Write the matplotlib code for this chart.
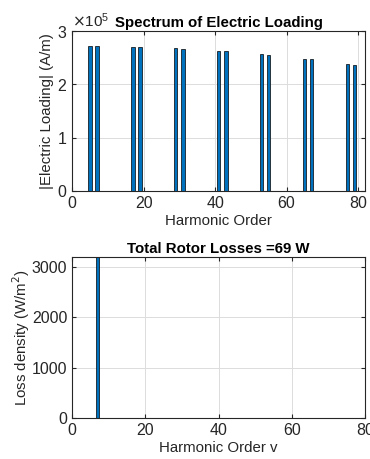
import numpy as np
import matplotlib
matplotlib.use("Agg")
from matplotlib import pyplot as plt
from matplotlib.ticker import ScalarFormatter

# harmonic spectrum of the electric loading (A/m)
harmonics = [5, 7, 17, 19, 29, 31, 41, 43, 53, 55, 65, 67, 77, 79]
loading = [2.73e5, 2.73e5, 2.71e5, 2.71e5, 2.68e5, 2.67e5, 2.63e5, 2.62e5,
           2.57e5, 2.55e5, 2.48e5, 2.47e5, 2.38e5, 2.37e5]

# rotor loss density per harmonic (W/m^2)
loss_harmonics = [5, 7, 17, 19, 29, 31, 41, 43, 53, 55, 65, 67, 77, 79]
loss_density = [0, 9000, 4, 3, 1, 1, 0.5, 0.5, 0.3, 0.3, 0.2, 0.2, 0.1, 0.1]
total_loss = 69

blue = "#0072BD"
axcol = "#262626"

plt.rcParams['font.family'] = ['Liberation Sans', 'DejaVu Sans']
plt.rcParams['font.size'] = 10.8

fig = plt.figure(figsize=(3.7, 4.59), dpi=100)


def style(ax):
    for s in ax.spines.values():
        s.set_color(axcol)
        s.set_linewidth(0.8)
    ax.tick_params(direction='in', top=True, right=True, colors=axcol,
                   labelcolor=axcol, length=3, labelsize=11.5)
    ax.grid(True, color='#dcdcdc', linewidth=0.7)
    ax.set_axisbelow(True)


# all harmonics 1..82 so zero bars draw along the baseline like MATLAB
n_all = np.arange(1, 82)
load_all = np.zeros(len(n_all))
for h, v in zip(harmonics, loading):
    load_all[h - 1] = v
loss_all = np.zeros(len(n_all))
for h, v in zip(loss_harmonics, loss_density):
    loss_all[h - 1] = v

ax1 = fig.add_axes([0.195, 0.584, 0.792, 0.348])
style(ax1)
ax1.bar(n_all, load_all, width=0.95, color=blue, edgecolor='black', linewidth=0.5)
ax1.set_xlim(0, 82)
ax1.set_ylim(0, 3e5)
ax1.set_xticks([0, 20, 40, 60, 80])
ax1.set_yticks([0, 1e5, 2e5, 3e5])
fmt = ScalarFormatter(useMathText=True)
fmt.set_powerlimits((0, 0))
ax1.yaxis.set_major_formatter(fmt)
ax1.yaxis.get_offset_text().set_color(axcol)
ax1.yaxis.get_offset_text().set_fontsize(11)
ax1.set_title("Spectrum of Electric Loading", fontweight='bold', fontsize=10.8, pad=3)
ax1.set_xlabel("Harmonic Order", color=axcol, labelpad=2)
ax1.set_ylabel("|Electric Loading| (A/m)", color=axcol, labelpad=2)

ax2 = fig.add_axes([0.195, 0.089, 0.792, 0.351])
style(ax2)
ax2.bar(n_all, loss_all, width=0.9, color=blue, edgecolor='black', linewidth=0.5)
ax2.set_xlim(0, 80)
ax2.set_ylim(0, 3200)
ax2.set_xticks([0, 20, 40, 60, 80])
ax2.set_yticks([0, 1000, 2000, 3000])
ax2.set_title("Total Rotor Losses =%d W" % total_loss, fontweight='bold', fontsize=10.8, pad=3)
ax2.set_xlabel("Harmonic Order v", color=axcol, labelpad=2)
ax2.set_ylabel("Loss density (W/m$^2$)", color=axcol, labelpad=0)

fig.savefig("out.png", dpi=100)
